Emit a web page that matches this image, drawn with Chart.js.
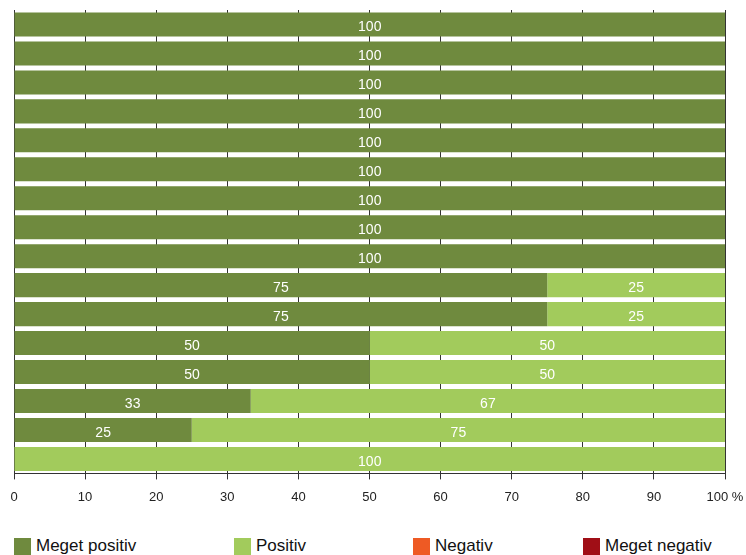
<!DOCTYPE html>
<html lang="no">
<head>
    <meta charset="UTF-8">
    <title>Vurdering</title>
    <script src="https://cdn.jsdelivr.net/npm/chart.js"></script>
    <style>
        body { margin: 0; background: #fff; font-family: "Liberation Sans", Arial, sans-serif; }
        #wrap { position: relative; width: 746px; height: 555px; }
        #chartBox { position: absolute; left: 0; top: 0; width: 746px; height: 515px; }
        .legend-item { position: absolute; top: 536px; display: flex; align-items: center; font-size: 17px; color: #111; }
        .legend-item span.box { display: inline-block; width: 17px; height: 17px; margin-right: 5px; }
    </style>
</head>
<body>
<div id="wrap">
    <div id="chartBox"><canvas id="barChart"></canvas></div>
    <div id="legend"></div>
</div>
<script>
    const rows = ['1', '2', '3', '4', '5', '6', '7', '8', '9', '10', '11', '12', '13', '14', '15', '16'];
    const megetPositiv = [100, 100, 100, 100, 100, 100, 100, 100, 100, 75, 75, 50, 50, 33.3, 25, 0];
    const positiv = [0, 0, 0, 0, 0, 0, 0, 0, 0, 25, 25, 50, 50, 66.7, 75, 100];
    const negativ = [0, 0, 0, 0, 0, 0, 0, 0, 0, 0, 0, 0, 0, 0, 0, 0];
    const megetNegativ = [0, 0, 0, 0, 0, 0, 0, 0, 0, 0, 0, 0, 0, 0, 0, 0];
    const seriesNames = ['Meget positiv', 'Positiv', 'Negativ', 'Meget negativ'];
    const seriesColors = ['#6f8a3e', '#a2cb5c', '#ee5a24', '#a00e16'];
    const legendLeft = [14, 234, 413, 583];

    // white value labels in the middle of each segment
    const valueLabels = {
        id: 'valueLabels',
        afterDatasetsDraw(chart) {
            const ctx = chart.ctx;
            ctx.save();
            ctx.fillStyle = '#ffffff';
            ctx.font = '14px "Liberation Sans", Arial, sans-serif';
            ctx.textAlign = 'center';
            ctx.textBaseline = 'middle';
            chart.data.datasets.forEach((ds, i) => {
                chart.getDatasetMeta(i).data.forEach((bar, j) => {
                    const v = ds.data[j];
                    if (!v) return;
                    ctx.fillText(Math.round(v), (bar.x + bar.base) / 2, bar.y + 3);
                });
            });
            ctx.restore();
        }
    };

    const allData = [megetPositiv, positiv, negativ, megetNegativ];

    new Chart(document.getElementById('barChart').getContext('2d'), {
        type: 'bar',
        data: {
            labels: rows,
            datasets: allData.map((d, i) => ({
                label: seriesNames[i],
                data: d,
                backgroundColor: seriesColors[i],
                borderWidth: 0,
                barPercentage: 0.83,
                categoryPercentage: 1
            }))
        },
        options: {
            indexAxis: 'y',
            responsive: true,
            maintainAspectRatio: false,
            animation: false,
            layout: { padding: { left: 14, right: 21, top: 10, bottom: 0 } },
            plugins: { legend: { display: false }, tooltip: { enabled: false } },
            scales: {
                x: {
                    stacked: true,
                    min: 0,
                    max: 100,
                    afterFit: scale => { scale.paddingLeft = 0; scale.paddingRight = 0; },
                    ticks: {
                        stepSize: 10,
                        color: '#222',
                        font: { family: '"Liberation Sans", Arial, sans-serif', size: 13 },
                        padding: 10,
                        callback: v => v === 100 ? '100 %' : v
                    },
                    grid: { color: '#333', lineWidth: 1, tickLength: 6 },
                    border: { color: '#333', width: 1 }
                },
                y: {
                    stacked: true,
                    display: false
                }
            }
        },
        plugins: [valueLabels]
    });

    const legend = document.getElementById('legend');
    seriesNames.forEach((name, i) => {
        const item = document.createElement('div');
        item.className = 'legend-item';
        item.style.left = legendLeft[i] + 'px';
        item.innerHTML = '<span class="box" style="background:' + seriesColors[i] + '"></span>' + name;
        legend.appendChild(item);
    });
</script>
</body>
</html>
